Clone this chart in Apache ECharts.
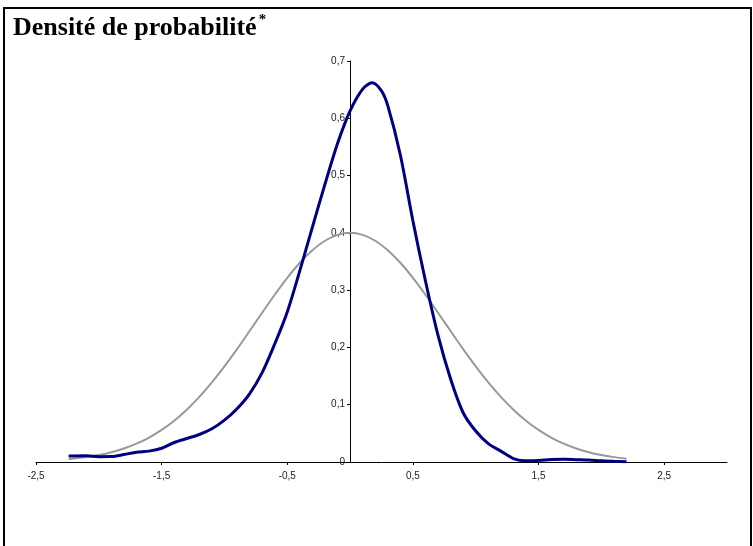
<!DOCTYPE html>
<html>
<head>
<meta charset="utf-8">
<script src="https://cdn.jsdelivr.net/npm/echarts@6/dist/echarts.min.js"></script>
<style>
html,body{margin:0;padding:0;background:#fff;}
#main{width:753px;height:546px;}
</style>
</head>
<body>
<div id="main"></div>
<script>
// x positions of the empirical density curve
var xEmp = [-2.24,-2.1,-2.0,-1.9,-1.8,-1.7,-1.6,-1.5,-1.4,-1.3,-1.2,-1.1,-1.0,-0.9,-0.8,-0.7,-0.6,-0.5,-0.4,-0.3,-0.2,-0.1,0.0,0.1,0.175,0.25,0.3,0.4,0.5,0.6,0.7,0.8,0.9,1.0,1.1,1.2,1.3,1.4,1.5,1.6,1.7,1.8,1.9,2.0,2.1,2.2];
// empirical density (dark blue)
var empirical = [0.0105,0.011,0.0093,0.0095,0.013,0.017,0.019,0.024,0.034,0.041,0.048,0.058,0.073,0.093,0.119,0.156,0.206,0.262,0.334,0.410,0.485,0.556,0.613,0.651,0.662,0.648,0.622,0.536,0.421,0.316,0.221,0.145,0.086,0.054,0.032,0.019,0.006,0.002,0.0025,0.0042,0.0047,0.004,0.0033,0.002,0.0012,0.0005];
// x positions of the reference curve
var xRef = [-2.24,-2.1,-2.0,-1.9,-1.8,-1.7,-1.6,-1.5,-1.4,-1.3,-1.2,-1.1,-1.0,-0.9,-0.8,-0.7,-0.6,-0.5,-0.4,-0.3,-0.2,-0.1,0.0,0.1,0.2,0.3,0.4,0.5,0.6,0.7,0.8,0.9,1.0,1.1,1.2,1.3,1.4,1.5,1.6,1.7,1.8,1.9,2.0,2.1,2.2];
// reference curve (grey)
var reference = [0.0050,0.0085,0.0121,0.0170,0.0236,0.0320,0.0427,0.0560,0.0721,0.0913,0.1136,0.1389,0.1669,0.1970,0.2286,0.2606,0.2920,0.3215,0.3478,0.3697,0.3862,0.3965,0.4000,0.3965,0.3862,0.3697,0.3478,0.3215,0.2920,0.2606,0.2286,0.1970,0.1669,0.1389,0.1136,0.0913,0.0721,0.0560,0.0427,0.0320,0.0236,0.0170,0.0121,0.0085,0.0058];
var xTickLabels = [-2.5,-1.5,-0.5,0.5,1.5,2.5];
var titleText = 'Densité de probabilité';

function pairs(xs, ys){ return xs.map(function(x,i){ return [x, ys[i]]; }); }
function fr(v){ return String(v).replace('.', ','); }

var X_MIN = -2.5, X_MAX = 3, GRID_LEFT = 36, GRID_RIGHT = 26;
var plotW = 753 - GRID_LEFT - GRID_RIGHT;
var yAxisOffset = -Math.round((0 - X_MIN) / (X_MAX - X_MIN) * plotW);

var chart = echarts.init(document.getElementById('main'), null, {renderer:'canvas'});
chart.setOption({
  backgroundColor:'#ffffff',
  animation:false,
  title:{
    text:'{a|' + titleText + '}{b|*}',
    left:8, top:8,
    textStyle:{
      rich:{
        a:{fontFamily:'Liberation Serif', fontWeight:'bold', fontSize:26, color:'#000', lineHeight:30},
        b:{fontFamily:'Liberation Serif', fontSize:15, color:'#000', verticalAlign:'top', lineHeight:30, padding:[0,0,13,2]}
      }
    }
  },
  graphic:[{
    type:'rect', shape:{x:4, y:8, width:747, height:560},
    style:{fill:null, stroke:'#000', lineWidth:2}, silent:true, z:-1
  }],
  grid:{left:GRID_LEFT, right:GRID_RIGHT, top:61, bottom:84},
  xAxis:{
    type:'value', min:X_MIN, max:X_MAX, interval:0.5,
    axisLine:{show:true, onZero:true, lineStyle:{color:'#000', width:1}},
    axisTick:{show:true, length:3, customValues:xTickLabels, lineStyle:{color:'#000'}},
    axisLabel:{customValues:xTickLabels, fontFamily:'Liberation Sans', fontSize:10, color:'#222', margin:9, formatter:function(v){return fr(v);}},
    splitLine:{show:false}
  },
  yAxis:{
    type:'value', min:0, max:0.7, interval:0.1, position:'left', offset:yAxisOffset,
    axisLine:{show:true, onZero:false, lineStyle:{color:'#000', width:1}},
    axisTick:{show:true, length:3, lineStyle:{color:'#000'}},
    axisLabel:{fontFamily:'Liberation Sans', fontSize:10, color:'#222', margin:5, formatter:function(v){return fr(Math.round(v*10)/10);}},
    splitLine:{show:false}
  },
  series:[
    {type:'line', data:pairs(xRef, reference), smooth:0.3, symbol:'none', lineStyle:{color:'#999999', width:2}, z:2},
    {type:'line', data:pairs(xEmp, empirical), smooth:0.3, symbol:'none', lineStyle:{color:'#000080', width:3}, z:3}
  ]
});
</script>
</body>
</html>
